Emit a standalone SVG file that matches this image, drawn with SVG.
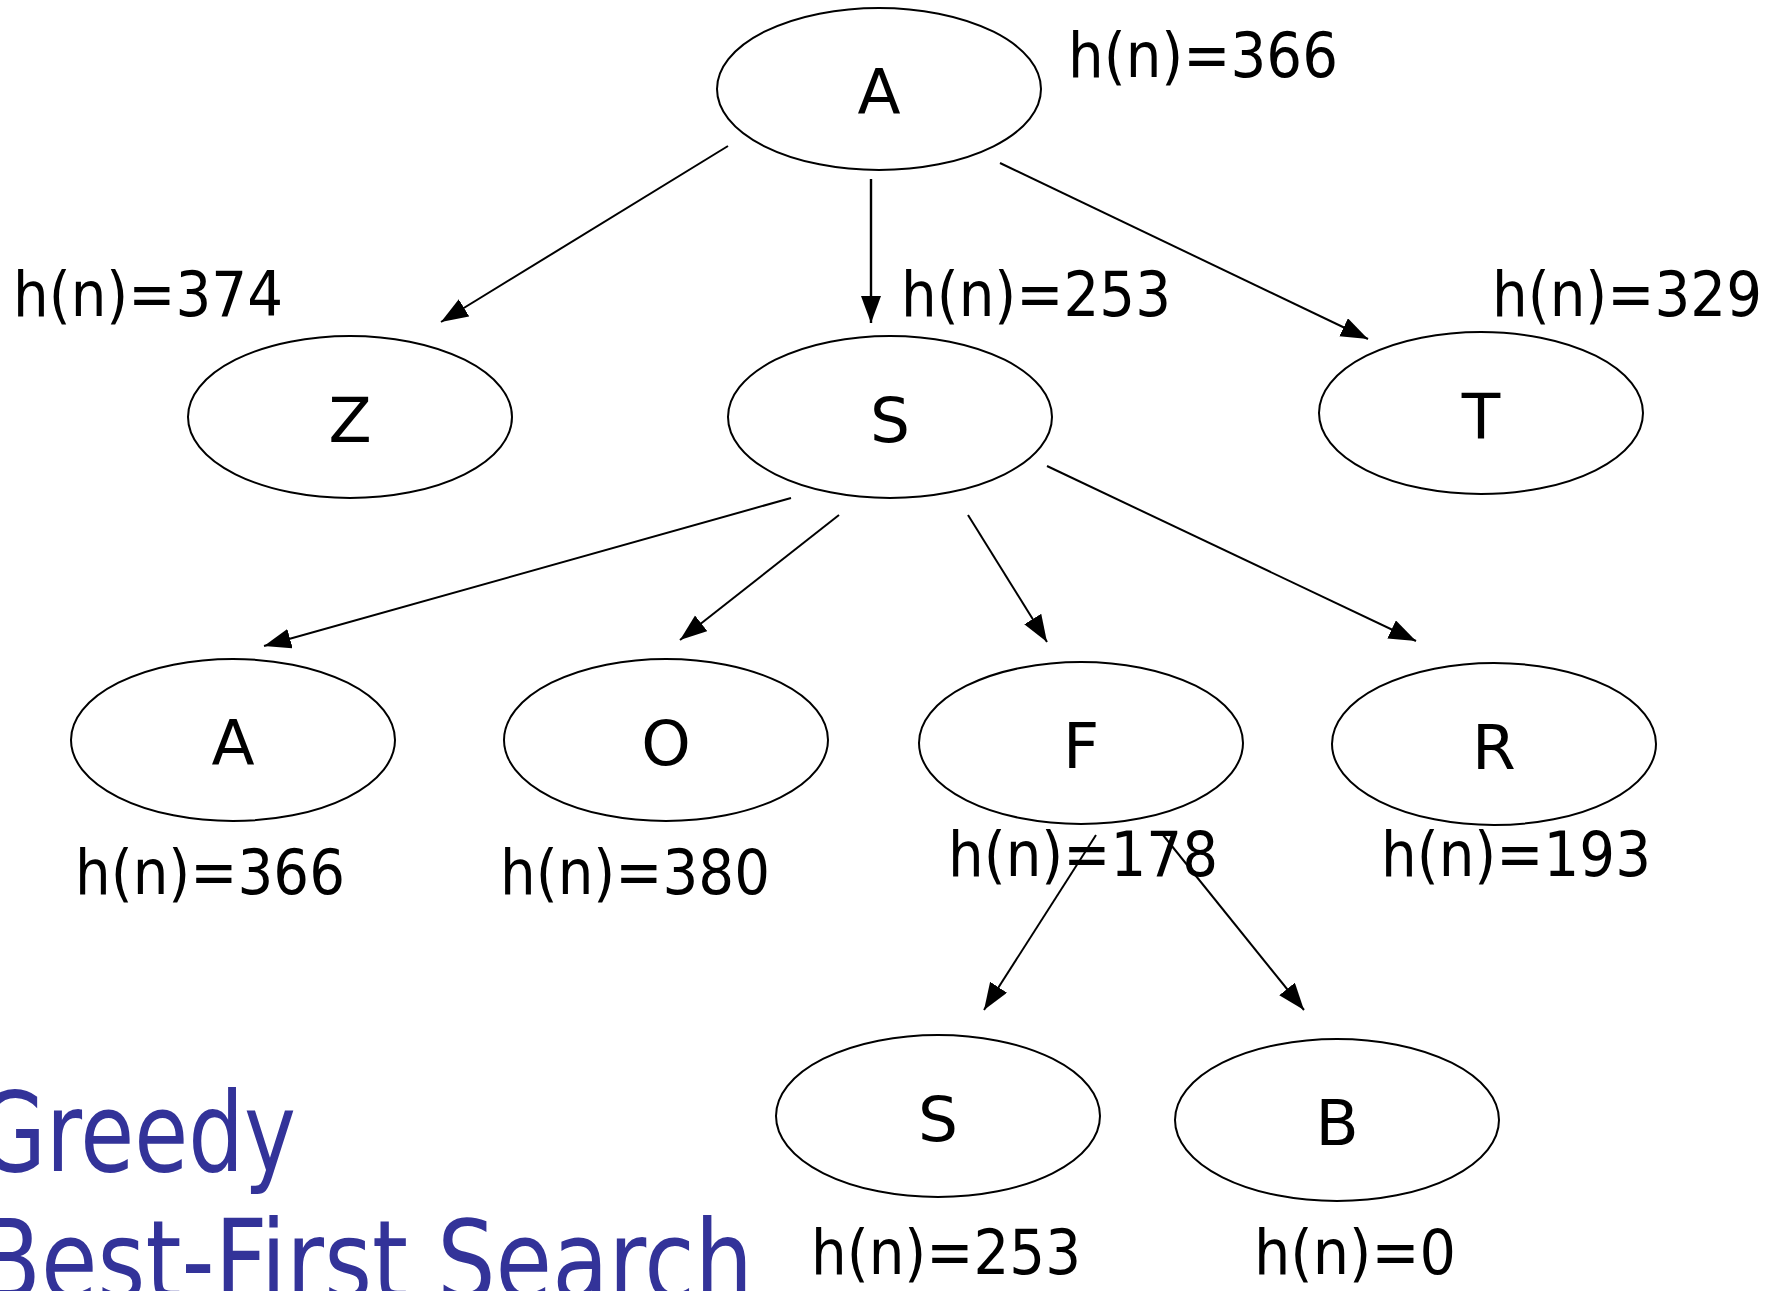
<svg xmlns="http://www.w3.org/2000/svg" width="1783" height="1291" viewBox="0 0 1783 1291">
  <style>
    .node ellipse { fill: #ffffff; stroke: #000000; stroke-width: 2; }
    .node text { font-family: "DejaVu Sans", Verdana, sans-serif; font-size: 63px; fill: #000000; text-anchor: middle; }
    .h { font-family: "DejaVu Sans", Verdana, sans-serif; font-size: 63px; fill: #000000; }
    .edge { stroke: #000000; stroke-width: 2; fill: none; marker-end: url(#arrow); }
    .title { font-family: "DejaVu Sans", Verdana, sans-serif; font-size: 110px; fill: #333399; }
  </style>
  <defs>
    <marker id="arrow" markerUnits="userSpaceOnUse" markerWidth="28" markerHeight="22" refX="27" refY="10" orient="auto">
      <path d="M0,0 L27,10 L0,20 z" fill="#000000"/>
    </marker>
  </defs>
  <rect x="0" y="0" width="1783" height="1291" fill="#ffffff"/>

  <!-- connectors -->
  <g id="edges">
    <line class="edge" x1="728" y1="146" x2="441" y2="322"/>
    <line class="edge" x1="871" y1="179" x2="871" y2="323" style="stroke-width:2.4"/>
    <line class="edge" x1="1000" y1="163" x2="1368" y2="339"/>
    <line class="edge" x1="791" y1="498" x2="264" y2="646"/>
    <line class="edge" x1="839" y1="515" x2="680" y2="640"/>
    <line class="edge" x1="968" y1="515" x2="1047" y2="642"/>
    <line class="edge" x1="1047" y1="466" x2="1416" y2="641"/>
    <line class="edge" x1="1096" y1="835" x2="984" y2="1010"/>
    <line class="edge" x1="1163" y1="835" x2="1304" y2="1010"/>
  </g>

  <!-- search tree nodes -->
  <g id="node-A-root" class="node">
    <ellipse cx="879" cy="89" rx="162" ry="81"/>
    <text x="879" y="114">A</text>
  </g>
  <g id="node-Z" class="node">
    <ellipse cx="350" cy="417" rx="162" ry="81"/>
    <text x="350" y="442">Z</text>
  </g>
  <g id="node-S" class="node">
    <ellipse cx="890" cy="417" rx="162" ry="81"/>
    <text x="890" y="442">S</text>
  </g>
  <g id="node-T" class="node">
    <ellipse cx="1481" cy="413" rx="162" ry="81"/>
    <text x="1481" y="438">T</text>
  </g>
  <g id="node-A" class="node">
    <ellipse cx="233" cy="740" rx="162" ry="81"/>
    <text x="233" y="765">A</text>
  </g>
  <g id="node-O" class="node">
    <ellipse cx="666" cy="740" rx="162" ry="81"/>
    <text x="666" y="765">O</text>
  </g>
  <g id="node-F" class="node">
    <ellipse cx="1081" cy="743" rx="162" ry="81"/>
    <text x="1081" y="768">F</text>
  </g>
  <g id="node-R" class="node">
    <ellipse cx="1494" cy="744" rx="162" ry="81"/>
    <text x="1494" y="769">R</text>
  </g>
  <g id="node-S2" class="node">
    <ellipse cx="938" cy="1116" rx="162" ry="81"/>
    <text x="938" y="1141">S</text>
  </g>
  <g id="node-B" class="node">
    <ellipse cx="1337" cy="1120" rx="162" ry="81"/>
    <text x="1337" y="1145">B</text>
  </g>

  <!-- heuristic values -->
  <g id="heuristics">
    <text class="h" x="1068" y="77" textLength="270" lengthAdjust="spacingAndGlyphs">h(n)=366</text>
    <text class="h" x="13" y="316" textLength="270" lengthAdjust="spacingAndGlyphs">h(n)=374</text>
    <text class="h" x="901" y="316" textLength="270" lengthAdjust="spacingAndGlyphs">h(n)=253</text>
    <text class="h" x="1492" y="316" textLength="270" lengthAdjust="spacingAndGlyphs">h(n)=329</text>
    <text class="h" x="75" y="894" textLength="270" lengthAdjust="spacingAndGlyphs">h(n)=366</text>
    <text class="h" x="500" y="894" textLength="270" lengthAdjust="spacingAndGlyphs">h(n)=380</text>
    <text class="h" x="948" y="876" textLength="270" lengthAdjust="spacingAndGlyphs">h(n)=178</text>
    <text class="h" x="1381" y="876" textLength="270" lengthAdjust="spacingAndGlyphs">h(n)=193</text>
    <text class="h" x="811" y="1274" textLength="270" lengthAdjust="spacingAndGlyphs">h(n)=253</text>
    <text class="h" x="1254" y="1274" textLength="202" lengthAdjust="spacingAndGlyphs">h(n)=0</text>
  </g>

  <!-- slide title -->
  <g id="title">
    <text class="title" x="-22" y="1171" textLength="318" lengthAdjust="spacingAndGlyphs">Greedy</text>
    <text class="title" x="-22" y="1299" textLength="775" lengthAdjust="spacingAndGlyphs">Best-First Search</text>
  </g>
</svg>
